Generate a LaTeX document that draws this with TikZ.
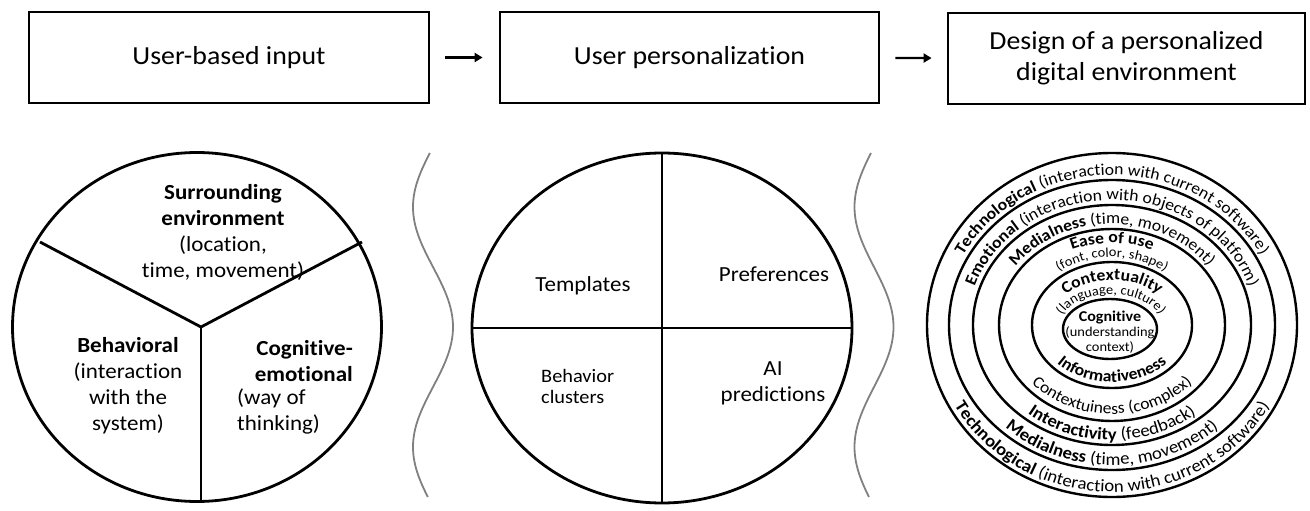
\documentclass[tikz,border=0pt]{standalone}
\usepackage{fontspec}
\setmainfont[FakeStretch=1.07,Ligatures=NoCommon]{Carlito}
\usetikzlibrary{decorations.text,arrows.meta}
\newcommand\RB[1]{\fontsize{#1}{#1}\selectfont\bfseries}
\newcommand\RM[1]{\fontsize{#1}{#1}\selectfont\mdseries}
% arc text: cx, cy, rx, ry, text
\newcommand\arctop[5]{\path[decorate,decoration={text along path,text align=center,text={#5}}] (#1-#3,-#2) arc[start angle=180,end angle=0,x radius=#3pt,y radius=#4pt];}
\newcommand\arcbot[5]{\path[decorate,decoration={text along path,text align=center,text={#5}}] (#1-#3,-#2) arc[start angle=180,end angle=360,x radius=#3pt,y radius=#4pt];}
\tikzset{
  box/.style={draw,line width=2.8pt,minimum height=91pt,align=center,inner sep=0pt,font=\fontsize{26}{31}\selectfont},
  arr/.style={line width=2.2pt,-{Triangle[length=8pt,width=9pt]}},
  big/.style={draw,line width=2.8pt},
  ring/.style={draw,line width=2.4pt},
  wave/.style={draw=black!50,line width=1.8pt},
  lbl/.style={align=center,inner sep=0pt,font=\fontsize{21.5}{26}\selectfont},
  mlbl/.style={align=center,inner sep=0pt,font=\fontsize{21.5}{26}\selectfont},
}
\begin{document}
\begin{tikzpicture}[x=1pt,y=1pt]
\useasboundingbox[fill=white] (0,0) rectangle (1310,-511);
% top boxes
\node[box,minimum width=400pt] (b1) at (229,-57.5) {User-based input};
\node[box,minimum width=379pt] (b2) at (689.5,-57.5) {User personalization};
\node[box,minimum width=357pt] (b3) at (1126.5,-58.5) {Design of a personalized\\digital environment};
\draw[arr,shorten <=15pt,shorten >=16pt] (b1) -- (b2);
\draw[arr,shorten <=15pt,shorten >=15pt] (b2) -- (b3);
% left circle
\coordinate (lc) at (197,-327);
\coordinate (hub) at (201,-327);
\coordinate (s1) at (40,-242);
\coordinate (s2) at (362,-242);
\coordinate (s3) at (201,-502);
\draw[big] (lc) ellipse[x radius=184.5pt,y radius=174.5pt];
\draw[big] (s1) -- (hub) -- (s2);
\draw[big] (hub) -- (s3);
\node[lbl] (sur) at (223,-232) {\textbf{Surrounding}\\\textbf{environment}\\(location,\\time, movement)};
\node[lbl] (beh) at (128,-386) {\textbf{Behavioral}\\(interaction\\with the\\system)};
\node[lbl,anchor=east,align=right] (cog1) at (353,-361) {\textbf{Cognitive-}\\\textbf{emotional}};
\node[lbl,anchor=west,align=left] (cog2) at (237,-411) {(way of\\thinking)};
% waves
\draw[wave] plot[domain=153:497,samples=90,smooth] ({433+20*sin(1.5*(\x-267))},{-\x});
\draw[wave] plot[domain=153:497,samples=90,smooth] ({874+19.5*sin(1.5*(\x-267))},{-\x});
% middle circle
\coordinate (mc) at (662,-328);
\draw[big] (mc) ellipse[x radius=190pt,y radius=175pt];
\coordinate (mL) at (472,-328);
\coordinate (mR) at (852,-328);
\coordinate (mT) at (662,-153);
\coordinate (mB) at (662,-503);
\draw[big] (mL) -- (mR);
\draw[big] (mT) -- (mB);
\node[mlbl] (tpl) at (583,-286) {Templates};
\node[mlbl] (pref) at (774,-274) {Preferences};
\node[align=left,inner sep=0pt,anchor=west,font=\fontsize{19}{21}\selectfont] (bcl) at (541,-386) {Behavior\\clusters};
\node[mlbl] (ai) at (773,-383) {AI\\predictions};
% right concentric rings
\draw[ring] (1112,-325) ellipse[x radius=185pt,y radius=172pt];
\draw[ring] (1112,-325) ellipse[x radius=163pt,y radius=145pt];
\draw[ring] (1112,-325) ellipse[x radius=139pt,y radius=120pt];
\draw[ring] (1112,-325) ellipse[x radius=113pt,y radius=96pt];
\draw[ring] (1112,-325) ellipse[x radius=80pt,y radius=63pt];
\draw[ring] (1110,-329) ellipse[x radius=47pt,y radius=30pt];
\arctop{1112}{325}{168}{150}{|\RB{16.5}|Technological |\RM{16.5}|(interaction with current software)}
\arctop{1112}{325}{144}{125}{|\RB{16.5}|Emotional |\RM{16.5}|(interaction with objects of platform)}
\arctop{1112}{325}{118}{101}{|\RB{16.5}|Medialness |\RM{16.5}|(time, movement)}
\arctop{1112}{325}{99}{82}{|\RB{16.5}|Ease of use}
\arctop{1112}{325}{85}{68}{|\RM{13.5}|(font, color, shape)}
\arctop{1112}{325}{63}{45}{|\RB{16.5}|Contextuality}
\arctop{1111}{327}{52}{33}{|\RM{13.5}|(language, culture)}
\arcbot{1112}{325}{74}{57}{|\RB{16.5}|Informativeness}
\arcbot{1112}{325}{106}{89}{|\RM{16.5}|Contextuiness (complex)}
\arcbot{1112}{325}{133}{115}{|\RB{17.5}|Interactivity |\RM{17.5}|(feedback)}
\arcbot{1112}{325}{157}{140}{|\RB{17.5}|Medialness |\RM{17.5}|(time, movement)}
\arcbot{1112}{325}{180}{167}{|\RB{17.5}|Technological |\RM{17.5}|(interaction with current software)}
\node[align=center,inner sep=0pt,font=\fontsize{13.5}{15}\selectfont] (cogn) at (1110,-332) {{\fontsize{15}{15}\selectfont\bfseries Cognitive}\\(understanding\\context)};
\end{tikzpicture}
\end{document}
